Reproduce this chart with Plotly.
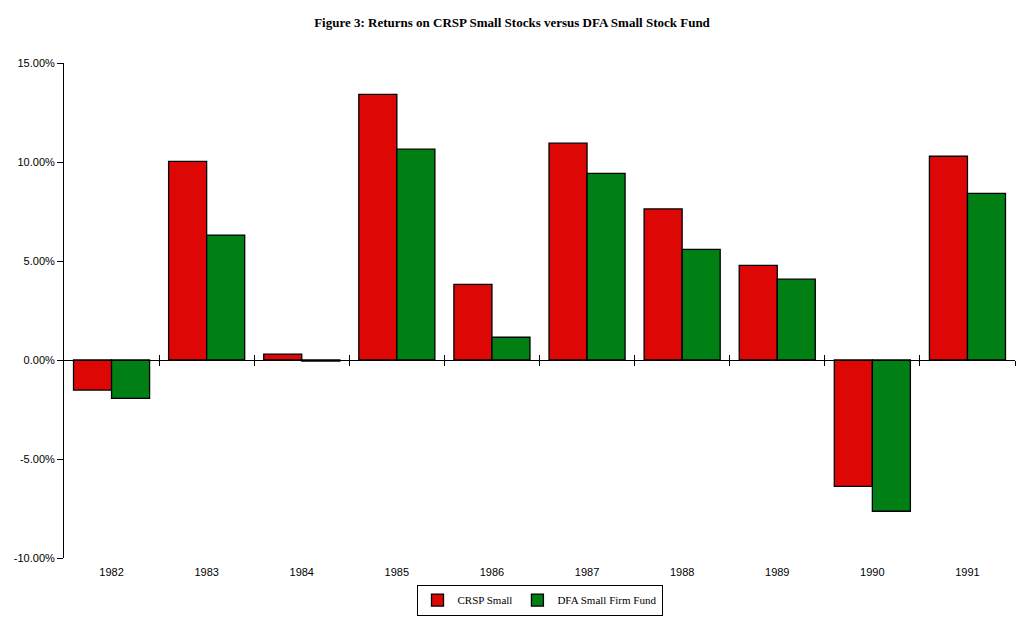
import plotly.graph_objects as go

years = ["1982", "1983", "1984", "1985", "1986", "1987", "1988", "1989", "1990", "1991"]
crsp_small = [-1.52, 10.03, 0.30, 13.42, 3.82, 10.95, 7.63, 4.78, -6.38, 10.29]
dfa_fund = [-1.94, 6.31, -0.05, 10.65, 1.15, 9.43, 5.59, 4.08, -7.64, 8.42]
y_ticks = [-10, -5, 0, 5, 10, 15]
y_tick_text = ["-10.00%", "-5.00%", "0.00%", "5.00%", "10.00%", "15.00%"]
boundaries = [i + 0.5 for i in range(len(years))]

fig = go.Figure()
fig.add_trace(go.Bar(x=years, y=crsp_small, name="CRSP Small",
                     marker=dict(color="#DD0806", line=dict(color="black", width=1.3))))
fig.add_trace(go.Bar(x=years, y=dfa_fund, name="DFA Small Firm Fund",
                     marker=dict(color="#007F14", line=dict(color="black", width=1.3))))
# invisible helper traces so the crossing-tick axes render
for ax in ["x2", "x3"]:
    fig.add_trace(go.Scatter(x=[-0.5, 9.5], y=[None, None], xaxis=ax, yaxis="y",
                             showlegend=False, hoverinfo="skip", mode="lines"))

# page body has an 8px margin; size the figure to compensate
W, H = 1016, 610
fig.update_layout(
    width=W, height=H,
    paper_bgcolor="white", plot_bgcolor="white",
    margin=dict(l=56, r=9, t=55, b=60, autoexpand=False),
    barmode="group", bargap=0.2, bargroupgap=0,
    title=dict(text="<b>Figure 3: Returns on CRSP Small Stocks versus DFA Small Stock Fund</b>",
               x=504 / W, xref="container", xanchor="center",
               y=1 - 14 / H, yref="container", yanchor="middle", automargin=False,
               font=dict(family="Liberation Serif", size=13, color="black")),
    font=dict(family="Liberation Sans", size=11, color="black"),
    xaxis=dict(type="category", showline=False, showgrid=False, ticks="", automargin=False,
               tickfont=dict(family="Liberation Sans", size=11), ticklabelstandoff=6,
               range=[-0.5, 9.5]),
    xaxis2=dict(overlaying="x", anchor="free", position=0.4, range=[-0.5, 9.5],
                automargin=False,
                showline=True, linecolor="black", linewidth=1,
                tickvals=boundaries, ticks="outside", ticklen=5, tickcolor="black",
                showticklabels=False, showgrid=False, zeroline=False),
    xaxis3=dict(overlaying="x", anchor="free", position=0.4, range=[-0.5, 9.5],
                automargin=False,
                showline=False, tickvals=boundaries, ticks="inside", ticklen=5,
                tickcolor="black", showticklabels=False, showgrid=False, zeroline=False),
    yaxis=dict(range=[-10, 15], tickvals=y_ticks, ticktext=y_tick_text, automargin=False,
               showline=True, linecolor="black", linewidth=1,
               ticks="outside", ticklen=6, tickcolor="black",
               showgrid=False, zeroline=False,
               tickfont=dict(family="Liberation Sans", size=11)),
    legend=dict(orientation="h", x=0.5, xanchor="center", y=-0.085, yanchor="middle",
                bordercolor="black", borderwidth=1, bgcolor="white",
                font=dict(family="Liberation Serif", size=11),
                itemwidth=30, tracegroupgap=0),
)

fig.write_html("out.html")
